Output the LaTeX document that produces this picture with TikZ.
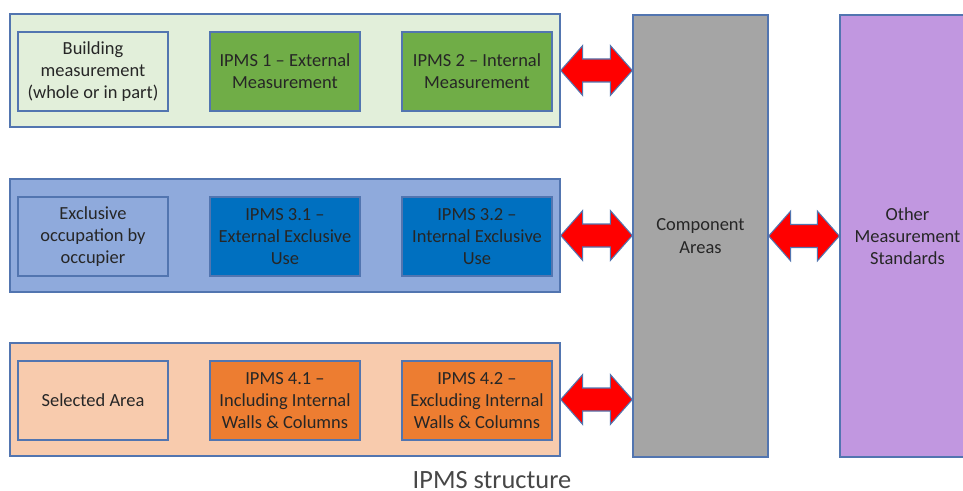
\documentclass[tikz,border=0pt]{standalone}
\usepackage{fontspec}
\setmainfont{Carlito}
\usetikzlibrary{calc}

\definecolor{edgeblue}{HTML}{5275B0}
\definecolor{palegreen}{HTML}{E2EFDA}
\definecolor{midgreen}{HTML}{70AD47}
\definecolor{paleblue}{HTML}{8FAADC}
\definecolor{midblue}{HTML}{0070C0}
\definecolor{palepeach}{HTML}{F8CBAD}
\definecolor{midorange}{HTML}{ED7D31}
\definecolor{midgray}{HTML}{A5A5A5}
\definecolor{lilac}{HTML}{C197E0}
\definecolor{inkgray}{HTML}{262626}

% fat red double arrow from #1 to #2 (same height)
\newcommand{\fatarrow}[2]{%
  \filldraw[bigarrow] (#1) -- ++(0.44,0.5) -- ++(0,-0.27) -- ($(#2)+(-0.44,0.23)$)
    -- ++(0,0.27) -- (#2) -- ++(-0.44,-0.5) -- ++(0,0.27)
    -- ($(#1)+(0.44,-0.23)$) -- ++(0,-0.27) -- cycle;}

\begin{document}
\begin{tikzpicture}[
    panel/.style={draw=edgeblue, line width=0.8pt, minimum width=11cm, minimum height=2.26cm},
    box/.style={draw=edgeblue, line width=0.8pt, minimum width=3cm, minimum height=1.58cm,
      align=center, text=inkgray, font=\fontsize{10.5}{12.7}\selectfont},
    column/.style={draw=edgeblue, line width=0.8pt, minimum width=2.7cm, minimum height=8.84cm,
      align=center, text=inkgray, font=\fontsize{10.5}{12.7}\selectfont},
    bigarrow/.style={fill=red, draw=edgeblue, line width=0.6pt, line join=miter}
  ]
	\useasboundingbox (0,0) rectangle (19.26,-9.82);

	% three bands
	\node[panel, fill=palegreen] (measpanel) at (5.7,-1.41) {};
	\node[panel, fill=paleblue] (occpanel) at (5.7,-4.71) {};
	\node[panel, fill=palepeach] (areapanel) at (5.7,-7.99) {};

	\node[box, fill=palegreen] (bldg) at (1.86,-1.43) {Building\\measurement\\(whole or in part)};
	\node[box, fill=midgreen] (ipmsone) at (5.70,-1.43) {IPMS 1 -- External\\Measurement};
	\node[box, fill=midgreen] (ipmstwo) at (9.54,-1.43) {IPMS 2 -- Internal\\Measurement};

	\node[box, fill=paleblue] (excl) at (1.86,-4.73) {Exclusive\\occupation by\\occupier};
	\node[box, fill=midblue] (ipmsthreeone) at (5.70,-4.73) {IPMS 3.1 --\\External Exclusive\\Use};
	\node[box, fill=midblue] (ipmsthreetwo) at (9.54,-4.73) {IPMS 3.2 --\\Internal Exclusive\\Use};

	\node[box, fill=palepeach] (sel) at (1.86,-8.01) {Selected Area};
	\node[box, fill=midorange] (ipmsfourone) at (5.70,-8.01) {IPMS 4.1 --\\Including Internal\\Walls \& Columns};
	\node[box, fill=midorange] (ipmsfourtwo) at (9.54,-8.01) {IPMS 4.2 --\\Excluding Internal\\Walls \& Columns};

	% right columns
	\node[column, fill=midgray] (comp) at (14.01,-4.72) {Component\\Areas};
	\node[column, fill=lilac] (other) at (18.15,-4.72) {Other\\Measurement\\Standards};

	% arrows
	\coordinate (measend) at (comp.west |- measpanel.east);
	\coordinate (occend) at (comp.west |- occpanel.east);
	\coordinate (areaend) at (comp.west |- areapanel.east);
	\fatarrow{measpanel.east}{measend}
	\fatarrow{occpanel.east}{occend}
	\fatarrow{areapanel.east}{areaend}
	\fatarrow{comp.east}{other.west}

	\node[anchor=base, inner sep=0pt, text=inkgray!85, font=\fontsize{15}{17}\selectfont] (caption) at (9.84,-9.76) {IPMS structure};
\end{tikzpicture}
\end{document}
